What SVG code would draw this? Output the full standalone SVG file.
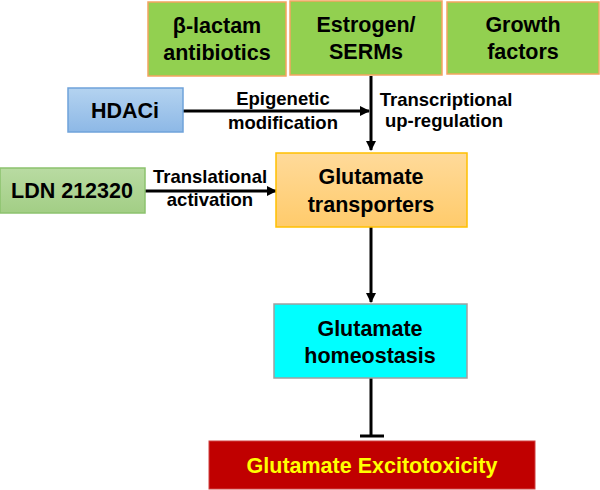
<svg xmlns="http://www.w3.org/2000/svg" width="600" height="490" viewBox="0 0 600 490">
<style>
text{font-family:"Liberation Sans",Arial,sans-serif;font-weight:bold;text-anchor:middle;fill:#000}
.big{font-size:21.5px}
.lab{font-size:18.5px}
.green{fill:#92D050;stroke:#F4A460;stroke-width:1.5}
.conn{stroke:#000;stroke-width:3;fill:none}
</style>
<defs>
<linearGradient id="gb" x1="0" y1="0" x2="0" y2="1"><stop offset="0" stop-color="#B4D3F0"/><stop offset="1" stop-color="#8DB8E6"/></linearGradient>
<linearGradient id="gg" x1="0" y1="0" x2="0" y2="1"><stop offset="0" stop-color="#B9DBA2"/><stop offset="1" stop-color="#A2CE85"/></linearGradient>
<linearGradient id="go" x1="0" y1="0" x2="0" y2="1"><stop offset="0" stop-color="#FFDA9A"/><stop offset="1" stop-color="#FFCB6B"/></linearGradient>
<marker id="ah" markerWidth="10" markerHeight="10" refX="9" refY="5" orient="auto" markerUnits="userSpaceOnUse"><path d="M0,0 L10,5 L0,10 Z" fill="#000"/></marker>
</defs>
<g id="connectors">
<line class="conn" x1="371" y1="76" x2="371" y2="150" marker-end="url(#ah)"/>
<line class="conn" x1="183" y1="111" x2="369" y2="111" marker-end="url(#ah)"/>
<line class="conn" x1="145" y1="191" x2="276" y2="191" marker-end="url(#ah)"/>
<line class="conn" x1="371" y1="227" x2="371" y2="302" marker-end="url(#ah)"/>
<line class="conn" x1="371" y1="378" x2="371" y2="436"/>
<line class="conn" x1="360" y1="436" x2="384" y2="436"/>
<text class="lab" x="283" y="105">Epigenetic</text>
<text class="lab" x="283" y="129">modification</text>
<text class="lab" x="446" y="106">Transcriptional</text>
<text class="lab" x="444" y="127">up-regulation</text>
<text class="lab" x="210" y="183">Translational</text>
<text class="lab" x="210" y="206">activation</text>
</g>
<g id="blactam"><rect class="green" x="148" y="2" width="138" height="74"/><text class="big" x="217" y="33">β-lactam</text><text class="big" x="217" y="60">antibiotics</text></g>
<g id="estrogen"><rect class="green" x="290" y="1" width="152" height="74"/><text class="big" x="366" y="32">Estrogen/</text><text class="big" x="366" y="59">SERMs</text></g>
<g id="growth"><rect class="green" x="447" y="2" width="152" height="72"/><text class="big" x="523" y="32">Growth</text><text class="big" x="523" y="59">factors</text></g>
<g id="hdaci"><rect x="68" y="88" width="115" height="44" fill="url(#gb)" stroke="#6FA3DA" stroke-width="1.5"/><text class="big" x="125" y="118">HDACi</text></g>
<g id="ldn"><rect x="0" y="168" width="145" height="45" fill="url(#gg)" stroke="#8CC26E" stroke-width="1.5"/><text class="big" x="72" y="198">LDN 212320</text></g>
<g id="transporters"><rect x="276" y="153" width="191" height="74" fill="url(#go)" stroke="#FFC000" stroke-width="1.5"/><text class="big" x="371" y="184">Glutamate</text><text class="big" x="371" y="212">transporters</text></g>
<g id="homeostasis"><rect x="274" y="304" width="193" height="74" fill="#00FFFF" stroke="#A0A0A0" stroke-width="1.5"/><text class="big" x="370" y="336">Glutamate</text><text class="big" x="370" y="363">homeostasis</text></g>
<g id="excitotoxicity"><rect x="209" y="441" width="326" height="48" fill="#C00000" stroke="#D04040" stroke-width="1"/><text class="big" x="372" y="473" style="fill:#FFFF00">Glutamate Excitotoxicity</text></g>
</svg>
